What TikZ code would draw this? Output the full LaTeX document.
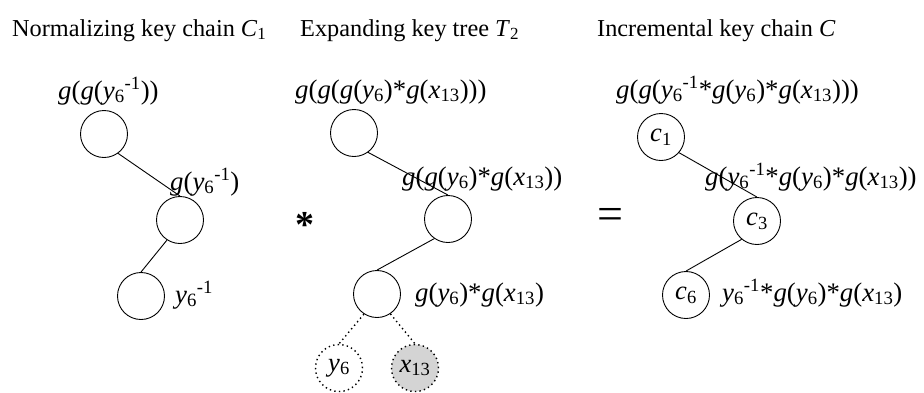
\documentclass[tikz,border=0pt]{standalone}
\usepackage{fontspec}
\setmainfont{Liberation Serif}
\usetikzlibrary{positioning}

\newcommand{\gk}{\textit{g}}
\newcommand{\ysix}{\textit{y}\textsubscript{6}}
\newcommand{\yneg}{\ysix\textsuperscript{-1}}
\newcommand{\xth}{\textit{x}\textsubscript{13}}

\begin{document}
\begin{tikzpicture}[
    x=1pt, y=-1pt,
    keynode/.style={circle, draw, line width=0.9pt, minimum size=47pt, inner sep=0pt, font=\fontsize{26.5}{29}\selectfont},
    leafnode/.style={keynode, line width=1.4pt, dash pattern=on 1.4pt off 3.2pt},
    title/.style={anchor=base west, inner sep=0pt, font=\fontsize{24.3}{28}\selectfont},
    keylabel/.style={anchor=base west, inner sep=0pt, font=\fontsize{26.8}{29}\selectfont},
    edge/.style={line width=0.9pt},
    leafedge/.style={line width=1.4pt, dash pattern=on 1.4pt off 3.2pt}
]
    \useasboundingbox (0,0) rectangle (924,392);

    % titles
    \node[title] (t1) at (12,36) {Normalizing key chain \textit{C}\textsubscript{1}};
    \node[title] (t2) at (300,36) {Expanding key tree \textit{T}\textsubscript{2}};
    \node[title] (t3) at (597,36) {Incremental key chain \textit{C}};

    % normalizing key chain
    \node[keynode] (a1) at (104,134) {};
    \node[keynode] (a2) at (180,220) {};
    \node[keynode] (a3) at (141,296) {};
    \draw[edge] (a1.-54) -- (a2.north);
    \draw[edge] (a2.-123) -- (a3.north);
    \node[keylabel] (la1) at (58,99) {\gk(\gk(\yneg))};
    \node[keylabel] (la2) at (170,190) {\gk(\yneg)};
    \node[keylabel] (la3) at (175,303) {\yneg};

    \node[font=\fontsize{38}{40}\selectfont\bfseries] (star) at (305,225) {*};

    % expanding key tree
    \node[keynode] (b1) at (354,133) {};
    \node[keynode] (b2) at (448,219) {};
    \node[keynode] (b3) at (377,294) {};
    \node[leafnode] (y6) at (339,368) {\ysix};
    \node[leafnode, fill=black!17] (x13) at (415,368) {\xth};
    \draw[edge] (b1.-54) -- (b2.north);
    \draw[edge] (b2.-125) -- (b3.north);
    \draw[leafedge] (b3.-123) -- (y6.north);
    \draw[leafedge] (b3.-56) -- (x13.north);
    \node[keylabel] (lb1) at (295,98) {\gk(\gk(\gk(\ysix)*\gk(\xth)))};
    \node[keylabel] (lb2) at (402,185) {\gk(\gk(\ysix)*\gk(\xth))};
    \node[keylabel] (lb3) at (415,301) {\gk(\ysix)*\gk(\xth)};

    \node[font=\fontsize{46}{48}\selectfont] (eq) at (610,219) {=};

    % incremental key chain
    \node[keynode] (c1) at (661,137) {\textit{c}\textsubscript{1}};
    \node[keynode] (c3) at (757,221) {\textit{c}\textsubscript{3}};
    \node[keynode] (c6) at (686,295) {\textit{c}\textsubscript{6}};
    \draw[edge] (c1.-41) -- (c3.north);
    \draw[edge] (c3.-130) -- (c6.north);
    \node[keylabel] (lc1) at (616,98) {\gk(\gk(\yneg*\gk(\ysix)*\gk(\xth)))};
    \node[keylabel] (lc2) at (705,185) {\gk(\yneg*\gk(\ysix)*\gk(\xth))};
    \node[keylabel] (lc3) at (722,301) {\yneg*\gk(\ysix)*\gk(\xth)};
\end{tikzpicture}
\end{document}
